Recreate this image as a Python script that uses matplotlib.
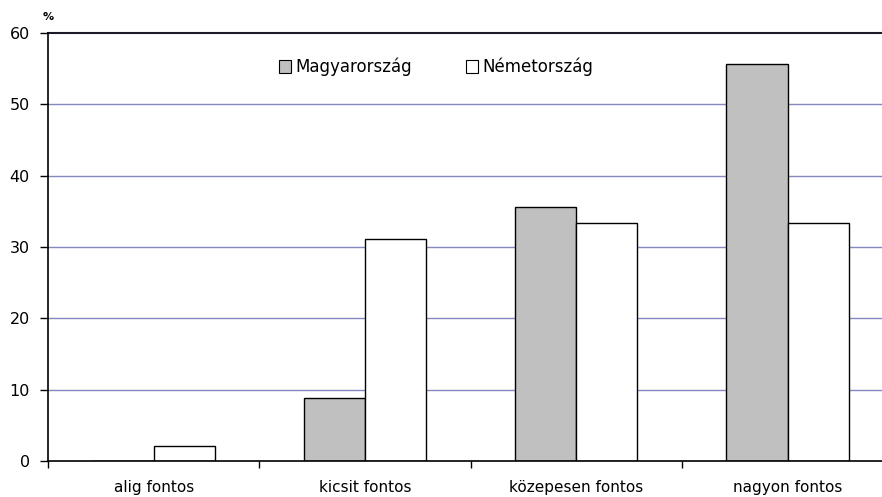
import matplotlib
matplotlib.use("Agg")
import matplotlib.pyplot as plt
from matplotlib.patches import Patch
import numpy as np

categories = ["alig fontos", "kicsit fontos", "közepesen fontos", "nagyon fontos"]
series_names = ["Magyarország", "Németország"]
hungary = [0.0, 8.8, 35.6, 55.6]
germany = [2.1, 31.1, 33.3, 33.3]
y_ticks = [0, 10, 20, 30, 40, 50, 60]

plt.rcParams['font.family'] = ['DejaVu Sans']

W, H = 882, 497
fig = plt.figure(figsize=(W / 100, H / 100), dpi=100)
left, right, bottom, top = 48, 48 + 4 * 211.3, 461, 33
ax = fig.add_axes([left / W, (H - bottom) / H, (right - left) / W, (bottom - top) / H])

x = np.arange(len(categories))
bw = 0.289
ax.bar(x - bw / 2, hungary, bw, color="#c0c0c0", edgecolor="black", linewidth=1, zorder=3)
ax.bar(x + bw / 2, germany, bw, color="white", edgecolor="black", linewidth=1, zorder=3)

ax.set_xlim(-0.5, len(categories) - 0.5)
ax.set_ylim(0, 60)
ax.set_yticks(y_ticks)
ax.set_yticklabels([str(v) for v in y_ticks])
for v in y_ticks[1:-1]:
    ax.axhline(v, color="#8686c0", linewidth=1, zorder=1)
ax.axhline(60, color="#1a1a2a", linewidth=1.5, zorder=1, clip_on=False)

for s in ["top", "right"]:
    ax.spines[s].set_visible(False)
ax.spines["left"].set_linewidth(1.2)
ax.spines["bottom"].set_linewidth(1.2)
ax.spines["left"].set_zorder(4)
ax.spines["bottom"].set_zorder(4)

ax.set_xticks(x)
ax.set_xticklabels(categories)
ax.set_xticks(np.arange(-0.5, len(categories) + 0.5, 1.0), minor=True)
ax.tick_params(axis="x", which="major", length=0, pad=14, labelsize=11)
ax.tick_params(axis="x", which="minor", length=5, width=1, direction="out")
ax.tick_params(axis="y", length=6, width=1, direction="out", pad=7, labelsize=11.5)

fig.text(43 / W, 1 - 17 / H, "%", fontsize=8, fontweight="bold", va="center", ha="left")

handles = [Patch(facecolor="#c0c0c0", edgecolor="black", linewidth=0.8),
           Patch(facecolor="white", edgecolor="black", linewidth=0.8)]
leg = fig.legend(handles, series_names, loc="center", bbox_to_anchor=(436 / W, 1 - 67 / H),
                 ncol=2, frameon=False, fontsize=12, handlelength=0.75, handleheight=0.75,
                 handletextpad=0.25, columnspacing=3.2, borderaxespad=0)

fig.savefig("out.png", dpi=100)
